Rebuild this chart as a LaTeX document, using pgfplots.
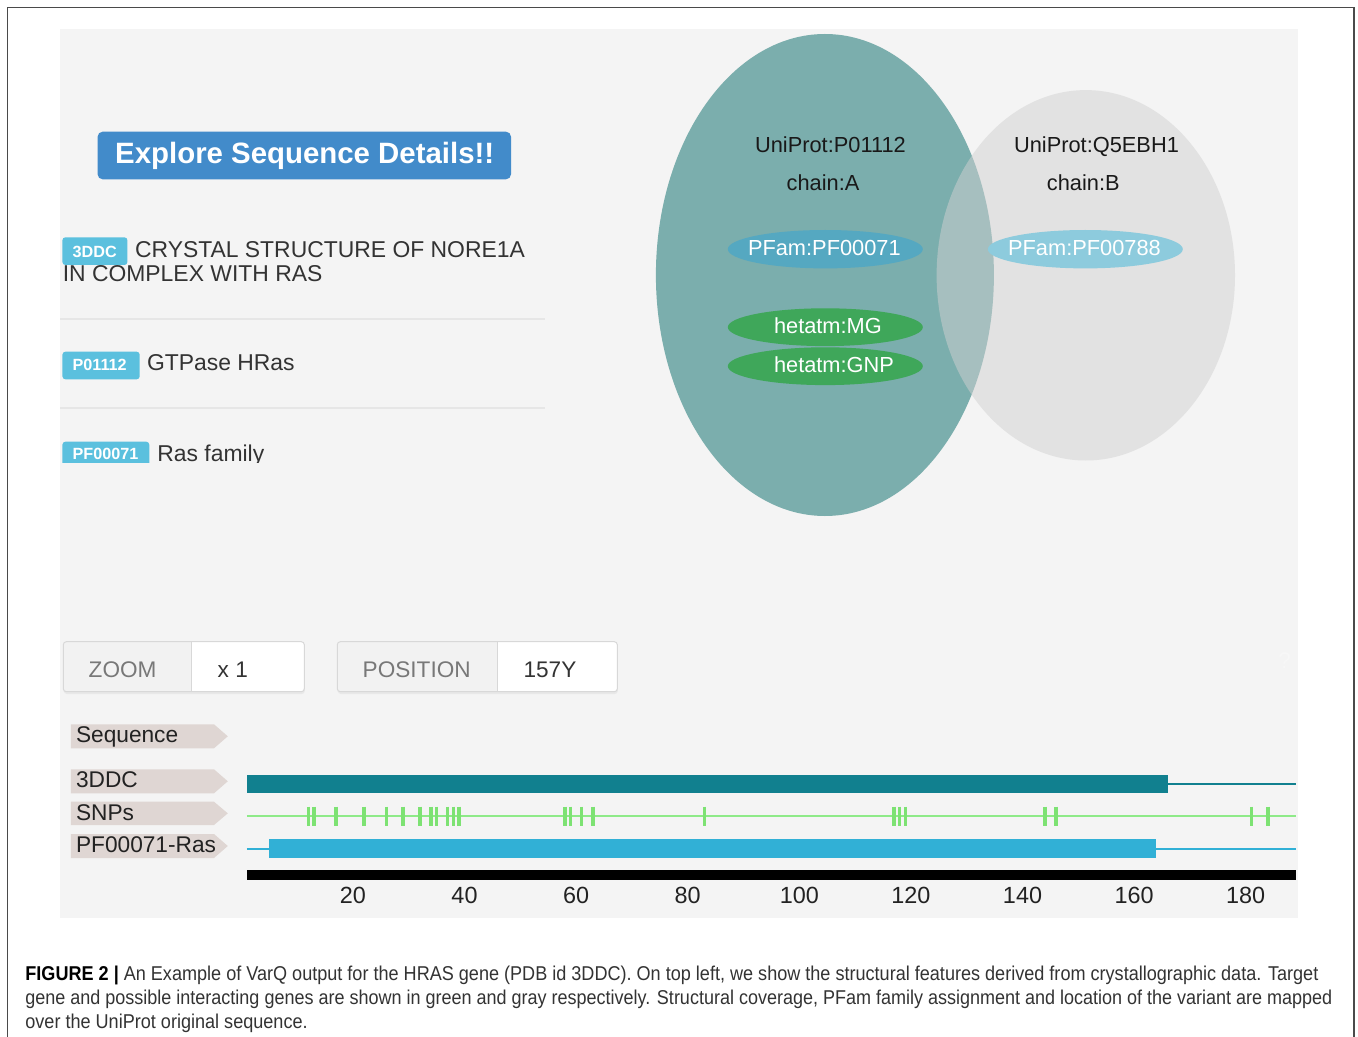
\documentclass[border=0pt]{standalone}
\usepackage{fontspec}
\setmainfont{Liberation Sans}
\usepackage{graphicx}
\usepackage{pgfplots}
\pgfplotsset{compat=1.18}
\definecolor{frame}{HTML}{4A4A4A}
\definecolor{panel}{HTML}{F4F4F4}
\definecolor{btn}{HTML}{428BCA}
\definecolor{badge}{HTML}{5BC0DE}
\definecolor{textdark}{HTML}{333333}
\definecolor{sep}{HTML}{E6E6E6}
\definecolor{tealE}{HTML}{7BAEAD}
\definecolor{grayE}{HTML}{D1D1D1}
\definecolor{pfA}{HTML}{55A8C1}
\definecolor{pfB}{HTML}{8DCBDD}
\definecolor{hetG}{HTML}{3FA75A}
\definecolor{zgray}{HTML}{F2F2F2}
\definecolor{bord}{HTML}{D8D8D8}
\definecolor{lab}{HTML}{DFD6D3}
\definecolor{tealbar}{HTML}{11808F}
\definecolor{snpline}{HTML}{8EEA88}
\definecolor{snptick}{HTML}{7DE273}
\definecolor{pfbar}{HTML}{31B0D6}
\definecolor{tick}{HTML}{222222}
\definecolor{capc}{HTML}{333333}
\newcommand\capfont{\fontsize{10}{12}\selectfont\color{capc}}
\newsavebox\capA
\newsavebox\capB
\newsavebox\capC
\newlength\capAw
\begin{document}%
\sbox\capA{\capfont\textbf{\color{black}FIGURE 2 |} An Example of VarQ output for the HRAS gene (PDB id 3DDC). On top left, we show the structural features derived from crystallographic data. Target}%
\sbox\capB{\capfont gene and possible interacting genes are shown in green and gray respectively. Structural coverage, PFam family assignment and location of the variant are mapped}%
\sbox\capC{\capfont over the UniProt original sequence.}%
\setlength\capAw{\wd\capA}%
\pgfmathsetmacro\capsc{646.5/\capAw}%
\begin{tikzpicture}[x=0.5pt,y=-0.5pt]
\useasboundingbox (0,0) rectangle (1358,1037);
\fill[white] (0,0) rectangle (1358,1037);
\draw[line width=0.8pt, frame] (7.5,1040) -- (7.5,7.5) -- (1354,7.5) -- (1354,1040);
\fill[panel] (60,29.3) rectangle (1298,918);
% button
\fill[btn, rounded corners=2.5pt] (97.6,131.7) rectangle (511,179.3);
\node[anchor=base west, inner sep=0, text=white, font=\fontsize{14.7}{16}\selectfont\bfseries] at (114.8,164) {Explore Sequence Details!!};
% rows
\tikzset{bdg/.style={anchor=base west, inner sep=0, text=white, font=\fontsize{8.1}{9}\selectfont\bfseries},
         txt/.style={anchor=base west, inner sep=0, text=textdark, font=\fontsize{11.45}{13}\selectfont}}
\fill[badge, rounded corners=1.5pt] (62.4,237.3) rectangle (127.4,265);
\node[bdg] at (72.2,257.3) {3DDC};
\node[txt] at (134.7,257.3) {CRYSTAL STRUCTURE OF NORE1A};
\node[txt] at (62.4,281.7) {IN COMPLEX WITH RAS};
\draw[sep, line width=1pt] (60,319) -- (545,319);
\fill[badge, rounded corners=1.5pt] (62.4,351.7) rectangle (139.7,379.3);
\node[bdg] at (72.2,370.7) {P01112};
\node[txt] at (146.6,370.7) {GTPase HRas};
\draw[sep, line width=1pt] (60,408.3) -- (545,408.3);
\begin{scope}
\clip (55,430) rectangle (600,462.7);
\fill[badge, rounded corners=1.5pt] (62.4,441.7) rectangle (149.3,469.3);
\node[bdg] at (72.2,459.6) {PF00071};
\node[txt] at (157,461.5) {Ras family};
\end{scope}
% Venn
\fill[tealE] (824.9,275) ellipse [x radius=84.5pt, y radius=120.5pt];
\fill[grayE, opacity=0.51] (1085.8,275.3) ellipse [x radius=74.6pt, y radius=92.6pt];
\fill[pfA] (825.3,249.2) ellipse [x radius=48.75pt, y radius=9.6pt];
\fill[pfB] (1085.3,249.2) ellipse [x radius=48.75pt, y radius=9.6pt];
\fill[hetG] (825.3,327.2) ellipse [x radius=48.75pt, y radius=9.45pt];
\fill[hetG] (825.3,366.2) ellipse [x radius=48.75pt, y radius=9.45pt];
\tikzset{vt/.style={anchor=base west, inner sep=0, font=\fontsize{10.9}{12}\selectfont}}
\node[vt, text=black!90] at (754.7,152.7) {UniProt:P01112};
\node[vt, text=black!90] at (786.3,190.7) {chain:A};
\node[vt, text=black!90] at (1013.7,152.7) {UniProt:Q5EBH1};
\node[vt, text=black!90] at (1046.5,190.7) {chain:B};
\node[vt, text=white] at (747.6,256) {PFam:PF00071};
\node[vt, text=white] at (1007.7,256) {PFam:PF00788};
\node[vt, text=white] at (773.6,333.3) {hetatm:MG};
\node[vt, text=white] at (773.6,372.3) {hetatm:GNP};
% zoom / position boxes
\foreach \xa/\xd/\xb in {63.3/191.7/304.3, 337.3/497.5/617.3}{
  \fill[black!9, rounded corners=1.5pt] (\xa+0.5,643.5) rectangle (\xb+0.5,694);
  \begin{scope}
  \clip[rounded corners=1.5pt] (\xa,641.7) rectangle (\xb,691.7);
  \fill[white] (\xa,641.7) rectangle (\xb,691.7);
  \fill[zgray] (\xa,641.7) rectangle (\xd,691.7);
  \draw[bord, line width=0.5pt] (\xd,641.7) -- (\xd,691.7);
  \end{scope}
  \draw[bord, line width=0.5pt, rounded corners=1.5pt] (\xa,641.7) rectangle (\xb,691.7);
}
\tikzset{zt/.style={anchor=base west, inner sep=0, font=\fontsize{11.3}{13}\selectfont}}
\node[zt, text=black!53] at (88.3,677.7) {ZOOM};
\node[zt, text=textdark] at (217.3,677.7) {x 1};
\node[zt, text=black!53] at (362.3,677.7) {POSITION};
\node[zt, text=textdark] at (523.2,677.7) {157Y};
\node[zt, text=white!97!black] at (1278,668) {?};
% track labels
\foreach \t/\b/\lbl/\bl in {724.3/748.3/Sequence/742.7, 769.3/793.3/3DDC/787.3, 801.7/825/SNPs/820, 834/858/PF00071-Ras/852.3}{
  \fill[lab] (70.8,\t) -- (214,\t) -- (227.8,{(\t+\b)/2}) -- (214,\b) -- (70.8,\b) -- cycle;
  \node[anchor=base west, inner sep=0, text=tick, font=\fontsize{11.35}{13}\selectfont] at (75.6,\bl) {\lbl};
}
% tracks
\begin{axis}[at={(123.44pt,-440pt)}, anchor=south west, scale only axis,
  width=524.52pt, height=55pt, xmin=1, xmax=189, ymin=-880, ymax=-770,
  axis line style={draw=none}, major tick length=0pt, ytick=\empty,
  xtick={20,40,...,180},
  xticklabel style={anchor=base, inner sep=0pt, yshift=-11.65pt, font=\fontsize{11.7}{13}\selectfont, text=tick},
  /pgf/number format/assume math mode=true, clip=false]
\addplot[fill=tealbar, draw=none] coordinates {(1,-774.7) (166,-774.7) (166,-793.3) (1,-793.3)} -- cycle;
\addplot[tealbar, line width=1pt] coordinates {(166,-784) (189,-784)};
\addplot[snpline, line width=1pt] coordinates {(1,-816.3) (189,-816.3)};
\addplot[snptick, only marks, mark=|, mark size=4.83pt, mark options={line width=1.7pt, solid}] coordinates {
 (12,-816.3) (13,-816.3) (17,-816.3) (22,-816.3) (26,-816.3) (29,-816.3) (32,-816.3) (34,-816.3) (35,-816.3)
 (37,-816.3) (38,-816.3) (39,-816.3) (58,-816.3) (59,-816.3) (61,-816.3) (63,-816.3) (83,-816.3)
 (117,-816.3) (118,-816.3) (119,-816.3) (144,-816.3) (146,-816.3) (181,-816.3) (184,-816.3)};
\addplot[pfbar, line width=1pt] coordinates {(1,-848.5) (5,-848.5)};
\addplot[pfbar, line width=1pt] coordinates {(164,-848.5) (189,-848.5)};
\addplot[fill=pfbar, draw=none] coordinates {(5,-839) (164,-839) (164,-858) (5,-858)} -- cycle;
\addplot[fill=black, draw=none] coordinates {(1,-870.3) (189,-870.3) (189,-880.3) (1,-880.3)} -- cycle;
\end{axis}
% caption
\node[anchor=base west, inner sep=0] at (25,980.3) {\resizebox{646.5pt}{\height}{\usebox\capA}};
\node[anchor=base west, inner sep=0] at (25,1004.3) {\resizebox{653.5pt}{\height}{\usebox\capB}};
\node[anchor=base west, inner sep=0] at (25,1028) {\scalebox{\capsc}[1]{\usebox\capC}};
\end{tikzpicture}%
\end{document}
